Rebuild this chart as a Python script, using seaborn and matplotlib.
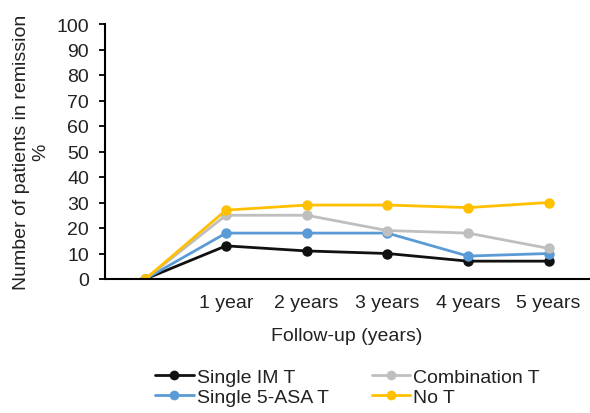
import matplotlib
matplotlib.use("Agg")
import matplotlib.pyplot as plt
import seaborn as sns
import pandas as pd
from matplotlib.lines import Line2D

categories = ["", "1 year", "2 years", "3 years", "4 years", "5 years"]
single_im = [0, 13, 11, 10, 7, 7]
combination = [0, 25, 25, 19, 18, 12]
single_asa = [0, 18, 18, 18, 9, 10]
no_t = [0, 27, 29, 29, 28, 30]

series_names = ["Single IM T", "Single 5-ASA T", "Combination T", "No T"]
series_values = [single_im, single_asa, combination, no_t]
colors = {"Single IM T": "#111111", "Combination T": "#bfbfbf",
          "Single 5-ASA T": "#5b9bd5", "No T": "#ffc000"}

rows = []
for name, vals in zip(series_names, series_values):
    for i, v in enumerate(vals):
        rows.append({"x": i, "value": v, "series": name})
df = pd.DataFrame(rows)

sns.set_theme(style="white")
plt.rcParams['font.family'] = ['Liberation Sans', 'DejaVu Sans']

FS = 14
fig = plt.figure(figsize=(5.9, 4.14), dpi=100)
ax = fig.add_axes([105/590, 1-280/414, (589-105)/590, (280-25)/414])

sns.lineplot(data=df, x="x", y="value", hue="series", hue_order=series_names,
             palette=colors, marker="o", markersize=7.5, markeredgewidth=0,
             linewidth=2.0, ax=ax, legend=False)

ax.set_xlim(-0.5, 5.5)
ax.set_ylim(0, 100)
ax.set_yticks(range(0, 101, 10))
ax.set_xticks(range(len(categories)))
ax.set_xticklabels(categories)
for sp in ["top", "right"]:
    ax.spines[sp].set_visible(False)
for sp in ["left", "bottom"]:
    ax.spines[sp].set_color("#000000")
    ax.spines[sp].set_linewidth(1.5)
ax.tick_params(axis="y", which="major", direction="out", length=4.5, width=1.3,
               color="#000000", labelsize=FS, labelcolor="#222222", pad=7, left=True)
ax.tick_params(axis="x", length=0, labelsize=FS, labelcolor="#222222", pad=11)
ax.set_xlabel("Follow-up (years)", fontsize=FS, color="#222222", labelpad=11)
ax.set_ylabel("Number of patients in remission\n%", fontsize=FS, color="#222222",
              labelpad=5, linespacing=1.2)

legend_order = ["Single IM T", "Single 5-ASA T", "Combination T", "No T"]
handles = [Line2D([0], [0], color=colors[n], marker="o", markersize=7,
                  markeredgewidth=0, linewidth=2.0) for n in legend_order]
fig.legend(handles, legend_order, loc="center", bbox_to_anchor=(0.589, 1-388/414),
           ncol=2, frameon=False, fontsize=FS, handlelength=2.0, handletextpad=0.15,
           columnspacing=2.2, labelspacing=0.12, labelcolor="#222222")

fig.savefig("out.png", dpi=100)
